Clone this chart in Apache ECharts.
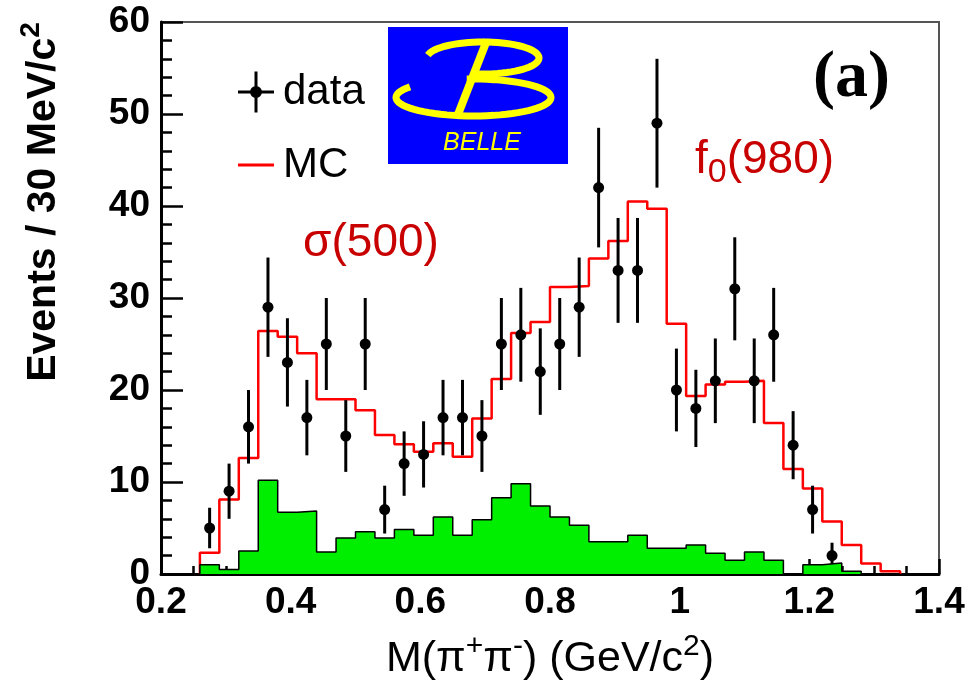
<!DOCTYPE html>
<html>
<head>
<meta charset="utf-8">
<script src="https://cdn.jsdelivr.net/npm/echarts@6/dist/echarts.min.js"></script>
<style>
  html, body { margin: 0; padding: 0; background: #fff; }
  #main { width: 976px; height: 689px; }
</style>
</head>
<body>
<div id="main"></div>
<script>
// M(pi+ pi-) spectrum, 30 MeV/c2 bins starting at 0.26 GeV/c2
var binLow = 0.26;
var binWidth = 0.03;

// data points, one per bin from 0.26 GeV (events and error bar half length)
var dataCounts = [5, 9, 16, 29, 23, 17, 25, 15, 25, 7, 12, 13, 17, 17, 15, 25, 26,
  22, 25, 29, 42, 33, 33, 49, 20, 18, 21, 31, 21, 26, 14, 7, 2];
var dataErrors = [2.2, 3.0, 4.0, 5.4, 4.8, 4.1, 5.0, 3.9, 5.0, 2.6, 3.5, 3.6, 4.1, 4.1, 3.9, 5.0, 5.1,
  4.7, 5.0, 5.4, 6.5, 5.7, 5.7, 7.0, 4.5, 4.2, 4.6, 5.6, 4.6, 5.1, 3.7, 2.6, 1.4];

// MC (red histogram)
var mcCounts = [2.3, 8.1, 12.6, 26.4, 25.8, 24.0, 19.0, 19.0, 17.8, 15.1, 14.1, 13.3,
  14.2, 12.75, 16.9, 21.2, 26.2, 27.4, 31.2, 31.3, 34.3, 36.2, 40.5, 39.7,
  27.2, 19.35, 20.6, 20.9, 21.0, 16.4, 11.4, 9.3, 5.7, 3.15, 1.15, 0.3];

// background (green histogram)
var bkgCounts = [1.0, 0.5, 2.5, 10.2, 6.7, 6.85, 2.4, 3.9, 4.6, 3.9, 4.85, 4.2,
  6.2, 4.2, 5.9, 8.3, 9.8, 7.4, 6.2, 5.3, 3.5, 3.5, 4.2, 2.8,
  2.8, 3.15, 2.25, 1.5, 2.4, 1.5, 0, 1.0, 1.2, 0.3, 0, 0];

// axis ticks
var xTicks = [0.2, 0.4, 0.6, 0.8, 1, 1.2, 1.4];
var yTicks = [0, 10, 20, 30, 40, 50, 60];

var FONT = "'Liberation Sans', Arial, Helvetica, sans-serif";
var chart = echarts.init(document.getElementById('main'));

// histogram outline as step points: (left edge, content), closed down to 0
function histPoints(counts) {
  var pts = [[binLow, 0]];
  for (var i = 0; i < counts.length; i++) {
    pts.push([binLow + i * binWidth, counts[i]]);
  }
  pts.push([binLow + counts.length * binWidth, 0]);
  return pts;
}

var dataPoints = dataCounts.map(function (v, i) {
  return [binLow + (i + 0.5) * binWidth, v, dataErrors[i]];
});

// elliptic arc for the logo, angles in degrees (screen coords)
function arcPts(cx, cy, rx, ry, a0, a1) {
  var pts = [];
  for (var a = a0; a <= a1; a += 5) {
    var t = a * Math.PI / 180;
    pts.push([cx + rx * Math.cos(t), cy + ry * Math.sin(t)]);
  }
  return pts;
}

var option = {
  backgroundColor: '#fff',
  animation: false,
  grid: {
    left: 161, top: 22, width: 778, height: 552,
    show: true, borderColor: '#555', borderWidth: 2,
    containLabel: false, outerBoundsMode: 'none'
  },
  legend: [{
    data: [{ name: 'data', icon: 'path://M0,19H36V22H0Z M16.5,0H19.5V41H16.5Z M12,20.5A6,6 0 1,1 24,20.5A6,6 0 1,1 12,20.5Z' }],
    left: 238, top: 71, padding: 0, orient: 'vertical',
    itemWidth: 36, itemHeight: 41, selectedMode: false,
    textStyle: { fontSize: 42, color: '#000', fontFamily: FONT, padding: [0, 0, 0, 4] }
  }, {
    data: [{ name: 'MC', icon: 'rect' }],
    left: 238, top: 144, padding: 0, orient: 'vertical',
    itemWidth: 36, itemHeight: 3, selectedMode: false,
    textStyle: { fontSize: 42, color: '#000', fontFamily: FONT, padding: [0, 0, 0, 4] }
  }],
  xAxis: {
    type: 'value',
    min: xTicks[0], max: xTicks[xTicks.length - 1], interval: xTicks[1] - xTicks[0],
    axisLine: { lineStyle: { color: '#000', width: 3 } },
    axisTick: { inside: true, length: 15, lineStyle: { color: '#000', width: 2.5 } },
    minorTick: { show: true, splitNumber: 4, length: 8, lineStyle: { color: '#000', width: 2.5 } },
    splitLine: { show: false },
    axisLabel: { fontSize: 37, fontWeight: 'bold', color: '#000', margin: 10, fontFamily: FONT },
    name: '{m|M(π}{s|+}{m|π}{s|-}{m|) (GeV/c}{s|2}{m|)}',
    nameLocation: 'middle',
    nameGap: 58,
    nameTextStyle: {
      rich: {
        m: { fontSize: 43, lineHeight: 54, color: '#000', fontFamily: FONT },
        s: { fontSize: 30, lineHeight: 24, verticalAlign: 'top', color: '#000', fontFamily: FONT }
      }
    }
  },
  yAxis: {
    type: 'value',
    min: yTicks[0], max: yTicks[yTicks.length - 1], interval: yTicks[1] - yTicks[0],
    axisLine: { lineStyle: { color: '#000', width: 3 } },
    axisTick: { inside: true, length: 22, lineStyle: { color: '#000', width: 2.5 } },
    minorTick: { show: true, splitNumber: 5, length: 11, lineStyle: { color: '#000', width: 2.5 } },
    splitLine: { show: false },
    axisLabel: { fontSize: 37, fontWeight: 'bold', color: '#000', margin: 11, fontFamily: FONT }
  },
  series: [{
    name: 'MC',
    type: 'line',
    step: 'end',
    data: histPoints(mcCounts),
    symbol: 'none',
    color: '#ff0000',
    lineStyle: { color: '#ff0000', width: 2.5 },
    z: 2
  }, {
    name: 'data',
    type: 'custom',
    data: dataPoints,
    encode: { x: 0, y: 1 },
    itemStyle: { color: '#000' },
    z: 3,
    renderItem: function (params, api) {
      var x = api.value(0), y = api.value(1), e = api.value(2);
      var hi = api.coord([x, y + e]);
      var lo = api.coord([x, Math.max(y - e, 0)]);
      var c = api.coord([x, y]);
      return {
        type: 'group',
        children: [
          { type: 'line', shape: { x1: hi[0], y1: hi[1], x2: lo[0], y2: lo[1] },
            style: { stroke: '#000', lineWidth: 3 } },
          { type: 'circle', shape: { cx: c[0], cy: c[1], r: 5.5 }, style: { fill: '#000' } }
        ]
      };
    }
  }, {
    name: 'bkg',
    type: 'line',
    step: 'end',
    data: histPoints(bkgCounts),
    symbol: 'none',
    lineStyle: { color: '#000', width: 1.5 },
    areaStyle: { color: '#00ee00', opacity: 1 },
    z: 4
  }],
  graphic: [
    // y axis title
    {
      type: 'text', x: 44, y: 202, rotation: Math.PI / 2,
      style: {
        text: '{m|Events / 30 MeV/c}{s|2}',
        align: 'center', verticalAlign: 'middle',
        rich: {
          m: { fontSize: 41, fontWeight: 'bold', lineHeight: 54, fill: '#000', fontFamily: FONT },
          s: { fontSize: 28, fontWeight: 'bold', lineHeight: 24, verticalAlign: 'top', fill: '#000', fontFamily: FONT }
        }
      }
    },
    // resonance labels
    {
      type: 'text', x: 371, y: 243,
      style: { text: 'σ(500)', fill: '#c80000', fontSize: 46, fontFamily: FONT, align: 'center', verticalAlign: 'middle' }
    },
    {
      type: 'text', x: 695, y: 160,
      style: {
        text: '{m|f}{s|0}{m|(980)}',
        align: 'left', verticalAlign: 'middle',
        rich: {
          m: { fontSize: 46, lineHeight: 60, fill: '#c80000', fontFamily: FONT },
          s: { fontSize: 34, lineHeight: 27, verticalAlign: 'bottom', fill: '#c80000', fontFamily: FONT }
        }
      }
    },
    // (a)
    {
      type: 'text', x: 890, y: 79,
      style: { text: '(a)', fill: '#000', fontSize: 66, fontWeight: 'bold', fontFamily: "'Liberation Serif', 'Times New Roman', serif", align: 'right', verticalAlign: 'middle' }
    },
    // Belle logo
    {
      type: 'group', z: 100,
      children: [
        { type: 'rect', shape: { x: 388, y: 27, width: 180, height: 137 }, style: { fill: '#0000ff' } },
        { type: 'polyline', shape: { points: arcPts(483, 58, 56, 16, 190, 460) },
          style: { fill: null, stroke: '#ffff00', lineWidth: 7 } },
        { type: 'polyline', shape: { points: arcPts(473.5, 97.5, 77.5, 18.5, 265, 575) },
          style: { fill: null, stroke: '#ffff00', lineWidth: 7 } },
        { type: 'line', shape: { x1: 487, y1: 40, x2: 457, y2: 117 },
          style: { stroke: '#ffff00', lineWidth: 8 } },
        { type: 'text', x: 482, y: 143,
          style: { text: 'BELLE', fill: '#ffff00', fontSize: 25, fontStyle: 'italic', fontFamily: FONT, align: 'center', verticalAlign: 'middle' } }
      ]
    }
  ]
};

chart.setOption(option);
</script>
</body>
</html>
